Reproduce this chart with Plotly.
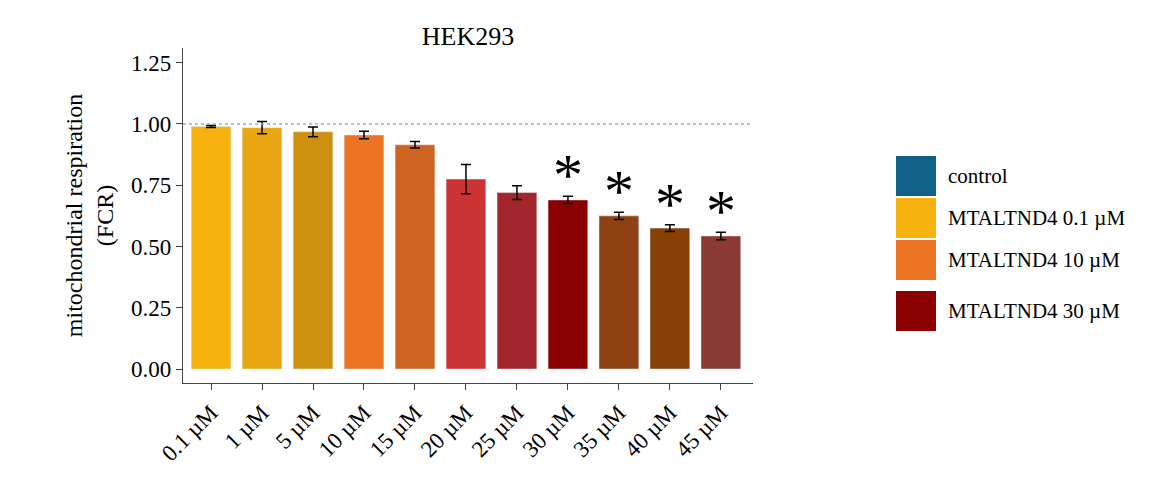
import plotly.graph_objects as go

categories = ["0.1 µM","1 µM","5 µM","10 µM","15 µM","20 µM","25 µM","30 µM","35 µM","40 µM","45 µM"]
values = [0.99, 0.985, 0.968, 0.955, 0.915, 0.775, 0.72, 0.69, 0.625, 0.575, 0.543]
errors = [0.004, 0.025, 0.02, 0.015, 0.013, 0.06, 0.028, 0.015, 0.015, 0.014, 0.015]
colors = ["#F8B20F","#E8A613","#CD900F","#EC7423","#CD6421","#CB3335","#A2262B","#8B0000","#8E4213","#874106","#8B3A31"]
significant = [False]*7 + [True]*4
legend_labels = ["control","MTALTND4 0.1 µM","MTALTND4 10 µM","MTALTND4 30 µM"]
legend_colors = ["#0F6187","#F8B20F","#EC7423","#8B0000"]

FONT = "Liberation Serif"
fig = go.Figure()
fig.add_trace(go.Bar(x=categories, y=values, marker_color=colors, width=0.78,
    error_y=dict(type="data", array=errors, color="black", thickness=1.5, width=5),
    showlegend=False))

for c, v, e, s in zip(categories, values, errors, significant):
    if s:
        fig.add_annotation(x=c, y=v+e, text="*", showarrow=False, yanchor="bottom",
                           yshift=-14, font=dict(size=60, family=FONT, color="black"))

fig.add_hline(y=1, line=dict(color="#8FB3C8", width=1.5, dash="dot"))

def py(ypix):
    return (1 - ypix/479)*479/335 - 104/335

for lab, col, yc in zip(legend_labels, legend_colors, [168, 210, 252, 303]):
    fig.add_shape(type="rect", xref="paper", yref="paper",
                  x0=(888-175)/570, x1=(928-175)/570, y0=py(yc+20), y1=py(yc-20),
                  fillcolor=col, line=dict(width=0))
    fig.add_annotation(xref="paper", yref="paper", x=(938-175)/570,
                       y=py(yc), text=lab, showarrow=False,
                       xanchor="left", yanchor="middle", font=dict(size=21, family=FONT, color="black"))

fig.update_layout(
    width=1169, height=479, plot_bgcolor="white", paper_bgcolor="white",
    margin=dict(l=175, r=424, t=40, b=104, autoexpand=False),
    font=dict(family=FONT, color="black", size=23),
    title=dict(text="HEK293", x=(460)/1169, xanchor="center", y=1-28/479, yanchor="middle",
               font=dict(size=26, family=FONT, color="black")),
)
fig.update_xaxes(range=[-0.55, 10.63], showline=True, linecolor="#444", linewidth=1.2,
                 ticks="outside", ticklen=6, tickcolor="#444", tickangle=-45, automargin=False,
                 tickfont=dict(size=23, family=FONT), showgrid=False)
fig.update_yaxes(range=[-0.057, 1.31], showline=True, linecolor="#444", linewidth=1.2,
                 ticks="outside", ticklen=6, tickcolor="#444", tickvals=[0,0.25,0.5,0.75,1.0,1.25],
                 tickformat=".2f", tickfont=dict(size=23, family=FONT), showgrid=False, zeroline=False,
                 automargin=False,
                 title=dict(text="mitochondrial respiration<br>(FCR)", font=dict(size=24, family=FONT), standoff=10))
fig.write_html("out.html")
